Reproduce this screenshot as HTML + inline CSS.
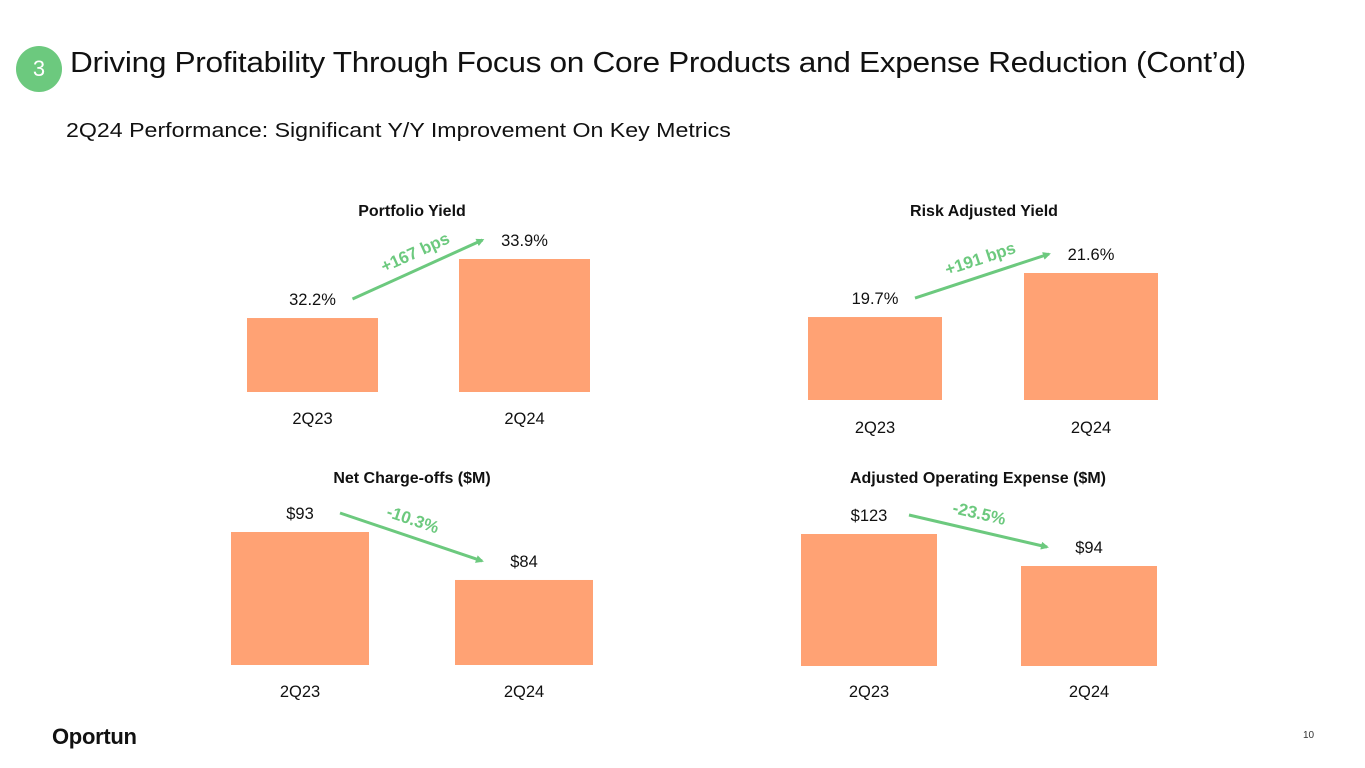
<!DOCTYPE html>
<html><head><meta charset="utf-8">
<style>
html,body{margin:0;padding:0;background:#fff;}
body{width:1365px;height:768px;position:relative;overflow:hidden;font-family:"Liberation Sans",sans-serif;}
.badge{position:absolute;left:16px;top:46px;width:46px;height:46px;border-radius:50%;background:#6cc97e;color:#fff;font-size:22px;text-align:center;line-height:46px;}
.title{position:absolute;left:70px;top:47px;font-size:29px;color:#111;white-space:nowrap;letter-spacing:-0.3px;transform-origin:0 0;transform:scaleX(1.09);}
.sub{position:absolute;left:66px;top:119px;font-size:20.5px;color:#111;white-space:nowrap;transform-origin:0 0;transform:scaleX(1.13);}
.logo{position:absolute;left:52px;top:724px;font-size:22px;font-weight:bold;color:#111;letter-spacing:-0.3px;}
.pg{position:absolute;left:1303px;top:730px;font-size:10px;color:#333;}
svg{position:absolute;left:0;top:0;}
</style></head><body>
<div class="badge">3</div>
<div class="title">Driving Profitability Through Focus on Core Products and Expense Reduction (Cont’d)</div>
<div class="sub">2Q24 Performance: Significant Y/Y Improvement On Key Metrics</div>
<div class="logo">Oportun</div>
<div class="pg">10</div>
<svg id="chart" width="1365" height="768"></svg>
<script>
const categories = ["2Q23","2Q24"];
const titles = ["Portfolio Yield","Risk Adjusted Yield","Net Charge-offs ($M)","Adjusted Operating Expense ($M)"];
const portfolioYield = [32.2, 33.9];
const riskAdjustedYield = [19.7, 21.6];
const netChargeOffs = [93, 84];
const adjOpex = [123, 94];
const valueLabels = [["32.2%","33.9%"],["19.7%","21.6%"],["$93","$84"],["$123","$94"]];
const deltaLabels = ["+167 bps","+191 bps","-10.3%","-23.5%"];
const domainMins = [30.07, 16.12, 68.05, 3.4];

const series = [portfolioYield, riskAdjustedYield, netChargeOffs, adjOpex];
const panels = [
  {x1:247,x2:459,w:131,bottom:392,h:133,tx:412,ty:216,cy:424},
  {x1:808,x2:1024,w:134,bottom:400,h:127,tx:984,ty:216,cy:433},
  {x1:231,x2:455,w:138,bottom:665,h:133,tx:412,ty:483,cy:697},
  {x1:801,x2:1021,w:136,bottom:666,h:132,tx:978,ty:483,cy:697}
];
const NS="http://www.w3.org/2000/svg";
const svg=document.getElementById('chart');
function mk(tag,attrs){const e=document.createElementNS(NS,tag);for(const k in attrs)e.setAttribute(k,attrs[k]);svg.appendChild(e);return e;}
const defs=mk('defs',{});
defs.innerHTML='<marker id="ah" markerWidth="8" markerHeight="8" refX="6" refY="4" orient="auto" markerUnits="userSpaceOnUse"><path d="M0,0 L8,4 L0,8 z" fill="#6cc97e"/></marker>';
series.forEach((vals,i)=>{
  const p=panels[i];
  const mx=Math.max(...vals);
  const y=v=>p.bottom-(v-domainMins[i])/(mx-domainMins[i])*p.h;
  const t=mk('text',{x:p.tx,y:p.ty,'text-anchor':'middle','font-size':16,'font-weight':'bold',fill:'#111'});
  t.textContent=titles[i];
  
  
  const centers=[];const tops=[];
  vals.forEach((v,j)=>{
    const x=j===0?p.x1:p.x2;
    const r=mk('rect',{x:x,y:y(v),width:p.w,height:p.bottom-y(v),fill:'#ffa274'});
    
    
    const cx=x+p.w/2;centers.push(cx);tops.push(y(v));
    const l=mk('text',{x:cx,y:y(v)-13,'text-anchor':'middle','font-size':16.5,fill:'#111'});
    l.textContent=valueLabels[i][j];
    
    
    const c=mk('text',{x:cx,y:p.cy,'text-anchor':'middle','font-size':16.5,fill:'#111'});
    c.textContent=categories[j];
    
    
  });
  const sx=centers[0]+40, sy=tops[0]-19, ex=centers[1]-42, ey=tops[1]-19;
  const a=mk('line',{x1:sx,y1:sy,x2:ex,y2:ey,stroke:'#6cc97e','stroke-width':3,'marker-end':'url(#ah)'});
  
  
  const ang=Math.atan2(ey-sy,ex-sx)*180/Math.PI;
  const mxp=(sx+ex)/2, myp=(sy+ey)/2-12;
  const d=mk('text',{x:mxp,y:myp,'text-anchor':'middle','font-size':17,'font-weight':'bold',fill:'#6cc97e',transform:`rotate(${ang} ${mxp} ${myp})`});
  d.textContent=deltaLabels[i];
  
  
});
</script>
</body></html>
